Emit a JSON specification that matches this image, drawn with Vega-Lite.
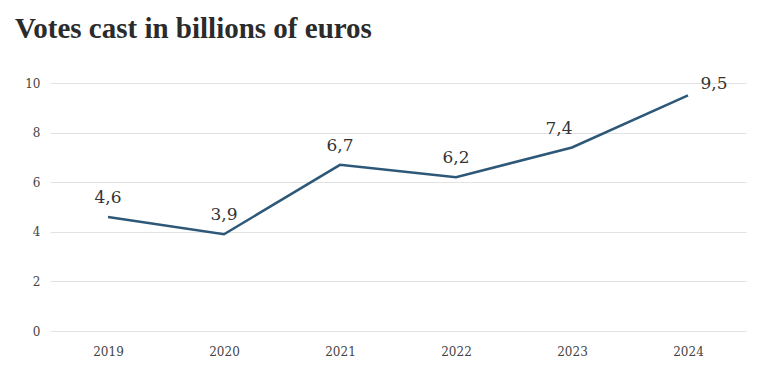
{
  "$schema": "https://vega.github.io/schema/vega-lite/v6.json",
  "width": 696,
  "height": 248,
  "autosize": {"type": "none"},
  "padding": {"left": 50, "top": 83, "right": 14, "bottom": 49},
  "background": "white",
  "title": {
    "text": "Votes cast in billions of euros",
    "anchor": "start",
    "frame": "group",
    "dx": -35,
    "offset": 31,
    "font": "Liberation Serif",
    "fontSize": 29,
    "fontWeight": "bold",
    "color": "#2b2b2b"
  },
  "config": {"view": {"stroke": null}},
  "data": {
    "values": [
      {"year": "2019", "value": 4.6, "label": "4,6"},
      {"year": "2020", "value": 3.9, "label": "3,9"},
      {"year": "2021", "value": 6.7, "label": "6,7"},
      {"year": "2022", "value": 6.2, "label": "6,2"},
      {"year": "2023", "value": 7.4, "label": "7,4"},
      {"year": "2024", "value": 9.5, "label": "9,5"}
    ]
  },
  "encoding": {
    "x": {
      "field": "year",
      "type": "ordinal",
      "scale": {"type": "point", "padding": 0.5},
      "axis": {
        "title": null,
        "labelAngle": 0,
        "domain": false,
        "ticks": false,
        "labelPadding": 15,
        "labelFont": "DejaVu Serif",
        "labelFontSize": 12,
        "labelColor": "#444"
      }
    },
    "y": {
      "field": "value",
      "type": "quantitative",
      "scale": {"domain": [0, 10]},
      "axis": {
        "title": null,
        "values": [0, 2, 4, 6, 8, 10],
        "domain": false,
        "ticks": false,
        "labelPadding": 10,
        "labelFont": "DejaVu Serif",
        "labelFontSize": 12,
        "labelColor": "#444",
        "gridColor": "#e2e2e2",
        "gridWidth": 1
      }
    }
  },
  "layer": [
    {"mark": {"type": "line", "color": "#2d5878", "strokeWidth": 2.5}},
    {
      "transform": [{"filter": "datum.year < '2023'"}],
      "mark": {"type": "text", "dy": -19, "font": "DejaVu Serif", "fontSize": 17, "color": "#333"},
      "encoding": {"text": {"field": "label"}}
    },
    {
      "transform": [{"filter": "datum.year == '2023'"}],
      "mark": {"type": "text", "dx": -13, "dy": -18, "font": "DejaVu Serif", "fontSize": 17, "color": "#333"},
      "encoding": {"text": {"field": "label"}}
    },
    {
      "transform": [{"filter": "datum.year == '2024'"}],
      "mark": {"type": "text", "dx": 26, "dy": -11, "font": "DejaVu Serif", "fontSize": 17, "color": "#333"},
      "encoding": {"text": {"field": "label"}}
    }
  ]
}
